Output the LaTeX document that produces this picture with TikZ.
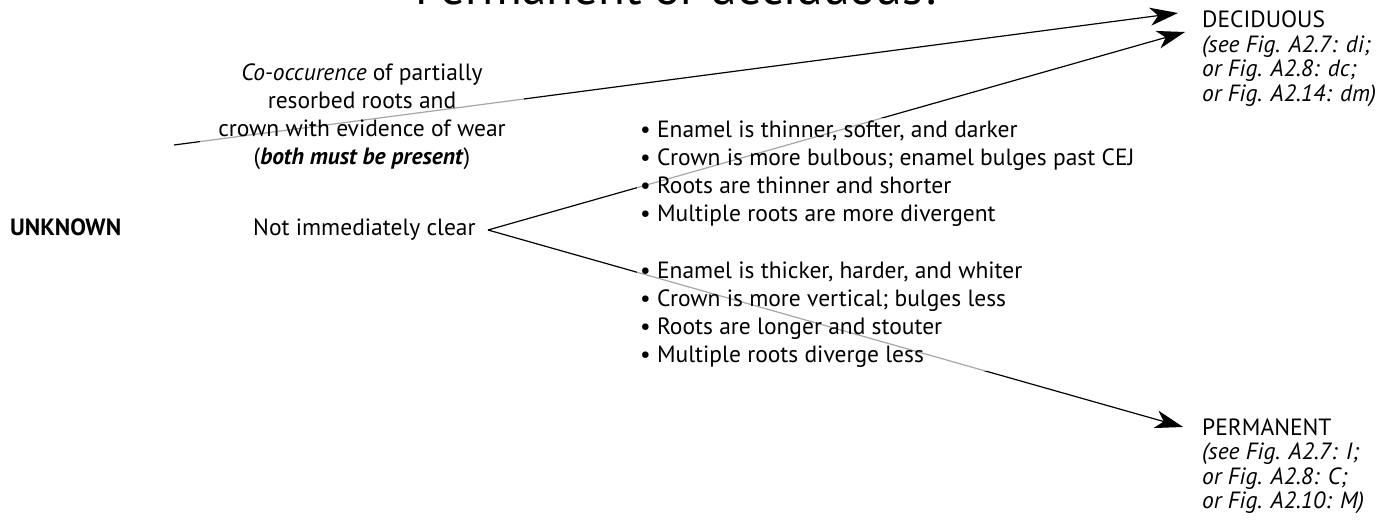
\documentclass[tikz,border=0pt]{standalone}
\usepackage{fontspec}
\setmainfont{PT Sans}
\usetikzlibrary{arrows.meta}
\pgfdeclarelayer{bg}
\pgfsetlayers{bg,main}
\begin{document}
\begin{tikzpicture}[x=1pt,y=-1pt,
  txt/.style={inner sep=0pt, font=\fontsize{23.5}{28}\selectfont},
  side/.style={inner sep=0pt, font=\fontsize{23.5}{24.5}\selectfont},
  veil/.style={fill=white, fill opacity=0.65, text opacity=1, inner sep=3pt},
  conn/.style={line width=1.2pt, -{Stealth[length=28pt,width=18pt,inset=8pt]}},
]
\useasboundingbox (0,0) rectangle (1382,529);
\clip (0,0) rectangle (1382,529);
% title (cut by the top edge)
\node[anchor=base west, inner sep=0pt, font=\fontsize{49}{55}\selectfont] (title) at (415,5) {Permanent or deciduous?};
% left labels
\node[txt, anchor=base west, font=\fontsize{23.5}{28}\selectfont\bfseries] (unknown) at (10,236) {UNKNOWN};
\node[txt, anchor=base west] (nic) at (253,236) {Not immediately clear};
% co-occurrence block
\node[txt, veil, anchor=base] (cooc) at (362,81) {\parbox[t]{318pt}{\centering
  \textit{Co-occurence} of partially\\
  resorbed roots and\\
  crown with evidence of wear\\
  (\textbf{\textit{both must be present}})}};
% bullet lists
\node[txt, veil, anchor=base west] (decchars) at (637,138) {\parbox[t]{520pt}{\raggedright
  • Enamel is thinner, softer, and darker\\
  • Crown is more bulbous; enamel bulges past CEJ\\
  • Roots are thinner and shorter\\
  • Multiple roots are more divergent}};
\node[txt, veil, anchor=base west] (permchars) at (637,279) {\parbox[t]{520pt}{\raggedright
  • Enamel is thicker, harder, and whiter\\
  • Crown is more vertical; bulges less\\
  • Roots are longer and stouter\\
  • Multiple roots diverge less}};
% outcomes
\node[side, anchor=base west] (dec) at (1202,28) {\parbox[t]{178pt}{
  DECIDUOUS\\
  \textit{(see Fig. A2.7: di;}\\
  \textit{or Fig. A2.8: dc;}\\
  \textit{or Fig. A2.14: dm)}}};
\node[side, anchor=base west] (perm) at (1202,435) {\parbox[t]{178pt}{
  PERMANENT\\
  \textit{(see Fig. A2.7: I;}\\
  \textit{or Fig. A2.8: C;}\\
  \textit{or Fig. A2.10: M)}}};
% connector ends
\coordinate (coStart) at (174,145);
\coordinate (fork) at (488,230);
\coordinate (decTipA) at (1178,13);
\coordinate (decTipB) at (1185,32);
\coordinate (permTip) at (1183,427);
\begin{pgfonlayer}{bg}
\draw[conn] (coStart) -- (decTipA);
\draw[conn] (fork) -- (decTipB);
\draw[conn] (fork) -- (permTip);
\end{pgfonlayer}
\end{tikzpicture}
\end{document}
